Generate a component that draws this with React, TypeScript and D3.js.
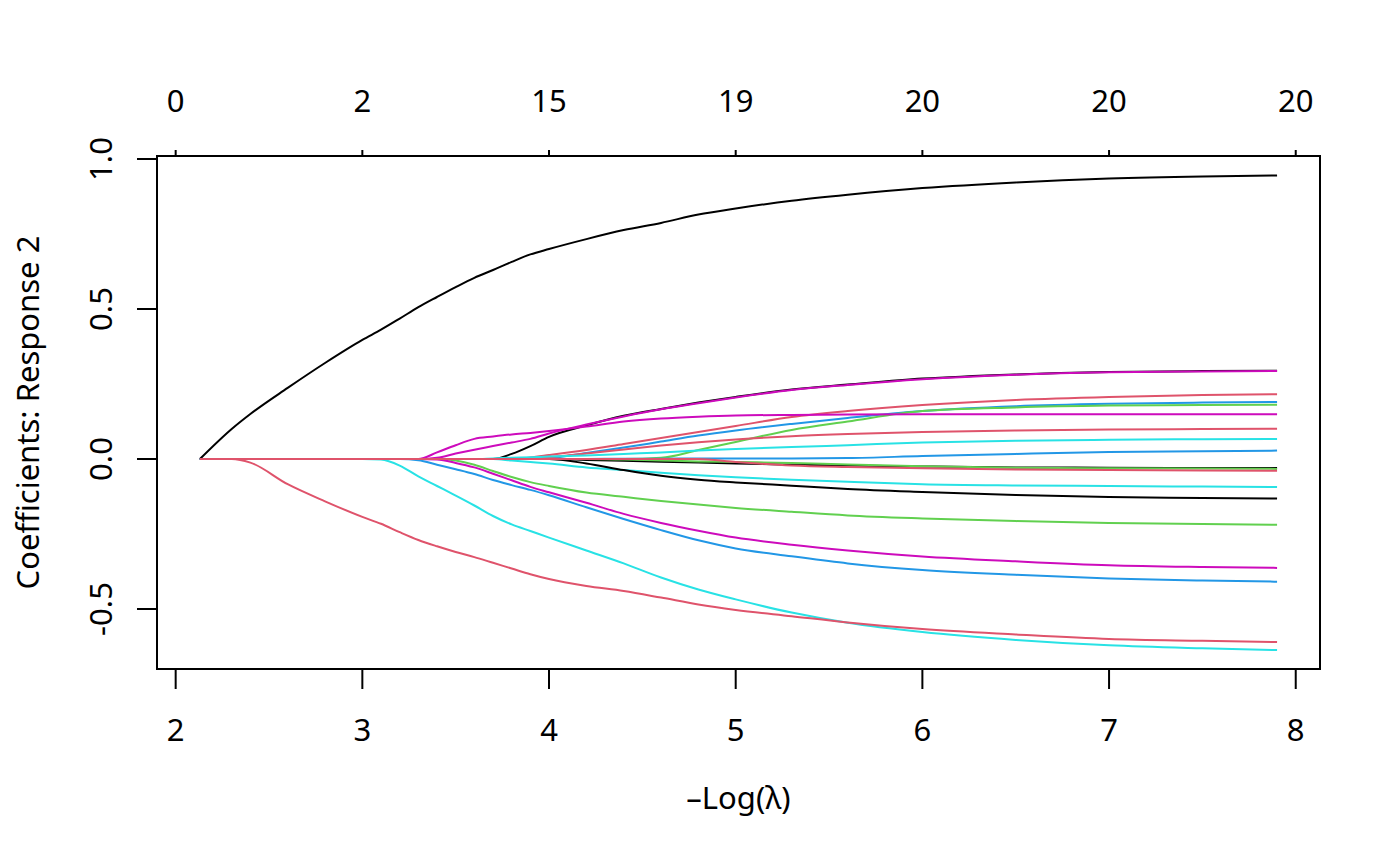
import React from "react";
import { scaleLinear, line, curveMonotoneX } from "d3";

// -log(lambda) grid the coefficients were read at
const negLogLambda = [
  2.13, 2.3, 2.4, 2.6, 2.8, 3.0, 3.1, 3.2, 3.3, 3.4, 3.5, 3.6, 3.7, 3.8, 3.9, 4.0,
  4.2, 4.4, 4.6, 4.8, 5.0, 5.3, 5.6, 6.0, 6.5, 7.0, 7.5, 7.9,
];

// coefficient paths, one array per variable
const v1 = [0, 0.1, 0.15, 0.237, 0.32, 0.397, 0.431, 0.468, 0.506, 0.54, 0.573, 0.604, 0.63, 0.657, 0.682, 0.7, 0.733, 0.763, 0.787, 0.815, 0.835, 0.861, 0.881, 0.903, 0.922, 0.935, 0.942, 0.945];
const v2 = [0, 0, 0, 0, 0, 0, 0, 0, 0, 0, 0, 0, 0, 0.017, 0.043, 0.074, 0.112, 0.144, 0.167, 0.188, 0.207, 0.232, 0.248, 0.268, 0.282, 0.29, 0.293, 0.294];
const v3 = [0, 0, 0, 0, 0, 0, 0, 0, 0, 0.004, 0.018, 0.031, 0.043, 0.055, 0.067, 0.085, 0.115, 0.142, 0.166, 0.186, 0.205, 0.23, 0.247, 0.266, 0.281, 0.289, 0.292, 0.293];
const v4 = [0, 0, 0, 0, 0, 0, 0, 0, 0, 0, 0, 0, 0, 0, 0.005, 0.013, 0.03, 0.05, 0.07, 0.09, 0.11, 0.14, 0.16, 0.18, 0.197, 0.207, 0.213, 0.216];
const v5 = [0, 0, 0, 0, 0, 0, 0, 0, 0, 0, 0, 0, 0, 0, 0, 0.003, 0.02, 0.038, 0.058, 0.078, 0.095, 0.117, 0.137, 0.16, 0.176, 0.184, 0.188, 0.19];
const v6 = [0, 0, 0, 0, 0, 0, 0, 0, 0, 0, 0, 0, 0, 0, 0, 0, 0, 0, 0.004, 0.03, 0.057, 0.097, 0.125, 0.16, 0.172, 0.178, 0.18, 0.181];
const v7 = [0, 0, 0, 0, 0, 0, 0, 0, 0, 0.022, 0.046, 0.067, 0.075, 0.082, 0.087, 0.093, 0.108, 0.125, 0.135, 0.141, 0.145, 0.147, 0.148, 0.149, 0.149, 0.149, 0.149, 0.149];
const v8 = [0, 0, 0, 0, 0, 0, 0, 0, 0, 0, 0, 0, 0, 0, 0, 0.006, 0.018, 0.032, 0.045, 0.056, 0.065, 0.076, 0.083, 0.09, 0.095, 0.098, 0.1, 0.101];
const v9 = [0, 0, 0, 0, 0, 0, 0, 0, 0, 0, 0, 0, 0.002, 0.004, 0.006, 0.008, 0.012, 0.017, 0.022, 0.028, 0.033, 0.04, 0.046, 0.055, 0.061, 0.064, 0.066, 0.067];
const v10 = [0, 0, 0, 0, 0, 0, 0, 0, 0, 0, 0, 0, 0, 0, 0, 0, 0, 0.001, 0.001, 0.002, 0.002, 0.002, 0.003, 0.01, 0.017, 0.023, 0.026, 0.028];
const v11 = [0, 0, 0, 0, 0, 0, 0, 0, 0, 0, 0, 0, 0, 0, 0, 0, -0.003, -0.006, -0.009, -0.012, -0.015, -0.019, -0.022, -0.025, -0.028, -0.029, -0.03, -0.03];
const v12 = [0, 0, 0, 0, 0, 0, 0, 0, 0, 0, 0, 0, 0, 0, 0, 0, 0, -0.002, -0.005, -0.008, -0.01, -0.013, -0.018, -0.024, -0.029, -0.031, -0.032, -0.033];
const v13 = [0, 0, 0, 0, 0, 0, 0, 0, 0, 0, 0, 0, 0, 0, 0, 0, 0, 0, 0, 0, -0.01, -0.022, -0.027, -0.031, -0.035, -0.037, -0.038, -0.039];
const v14 = [0, 0, 0, 0, 0, 0, 0, 0, 0, 0, 0, 0, 0, -0.005, -0.01, -0.015, -0.028, -0.037, -0.046, -0.054, -0.061, -0.069, -0.076, -0.084, -0.088, -0.09, -0.092, -0.093];
const v15 = [0, 0, 0, 0, 0, 0, 0, 0, 0, 0, 0, 0, 0, 0, 0, 0, -0.015, -0.037, -0.056, -0.069, -0.078, -0.089, -0.1, -0.11, -0.12, -0.127, -0.13, -0.132];
const v16 = [0, 0, 0, 0, 0, 0, 0, 0, 0, 0, -0.005, -0.019, -0.04, -0.06, -0.077, -0.09, -0.112, -0.126, -0.14, -0.152, -0.163, -0.176, -0.188, -0.198, -0.207, -0.213, -0.217, -0.219];
const v17 = [0, 0, 0, 0, 0, 0, 0, 0, 0, -0.002, -0.013, -0.028, -0.049, -0.071, -0.093, -0.111, -0.146, -0.183, -0.213, -0.239, -0.262, -0.286, -0.305, -0.325, -0.341, -0.354, -0.36, -0.363];
const v18 = [0, 0, 0, 0, 0, 0, 0, 0, -0.004, -0.019, -0.034, -0.05, -0.07, -0.087, -0.103, -0.121, -0.161, -0.2, -0.237, -0.271, -0.298, -0.324, -0.348, -0.37, -0.386, -0.398, -0.405, -0.409];
const v19 = [0, 0, -0.012, -0.084, -0.141, -0.193, -0.216, -0.244, -0.27, -0.291, -0.31, -0.327, -0.346, -0.365, -0.384, -0.4, -0.423, -0.44, -0.462, -0.485, -0.503, -0.524, -0.545, -0.567, -0.585, -0.6, -0.606, -0.61];
const v20 = [0, 0, 0, 0, 0, 0, -0.002, -0.022, -0.058, -0.09, -0.122, -0.155, -0.19, -0.218, -0.24, -0.262, -0.305, -0.348, -0.395, -0.435, -0.468, -0.512, -0.546, -0.577, -0.603, -0.621, -0.631, -0.637];

const paths = [v1, v2, v3, v4, v5, v6, v7, v8, v9, v10, v11, v12, v13, v14, v15, v16, v17, v18, v19, v20];
const pathColors = [
  "#000000", "#000000", "#CD0BBC", "#DF536B", "#2297E6", "#61D04F", "#CD0BBC", "#DF536B", "#28E2E5", "#2297E6",
  "#000000", "#61D04F", "#DF536B", "#28E2E5", "#000000", "#61D04F", "#CD0BBC", "#2297E6", "#DF536B", "#28E2E5",
];

const xTicks = [2, 3, 4, 5, 6, 7, 8];
const dfLabels = ["0", "2", "15", "19", "20", "20", "20"];
const yTicks = [-0.5, 0, 0.5, 1];

const W = 1400;
const H = 866;
const box = { left: 157, right: 1320, top: 156, bottom: 669 };
const font = "'Noto Sans', 'Open Sans', sans-serif";
const fs = 31;

export default function App() {
  const x = scaleLinear().domain([1.9, 8.13]).range([box.left, box.right]);
  const y = scaleLinear().domain([-0.7, 1.01]).range([box.bottom, box.top]);

  const gen = line<number>()
    .x((_, i) => x(negLogLambda[i]))
    .y((d) => y(d))
    .curve(curveMonotoneX);

  // a red path that stays on zero longest goes last, as in the original
  const order = [0, 1, 2, 3, 4, 5, 6, 7, 8, 9, 10, 11, 13, 14, 15, 16, 17, 19, 18, 12];

  return (
    <svg
      width={W}
      height={H}
      style={{ position: "absolute", left: 0, top: 0, background: "#fff" }}
      fontFamily={font}
    >
      <rect width={W} height={H} fill="#fff" />

      {order.map((k) => (
        <path key={k} d={gen(paths[k]) || ""} fill="none" stroke={pathColors[k]} strokeWidth={2} />
      ))}

      {/* box */}
      <rect
        x={box.left}
        y={box.top}
        width={box.right - box.left}
        height={box.bottom - box.top}
        fill="none"
        stroke="#000"
        strokeWidth={2}
      />

      {/* bottom axis */}
      <line x1={x(2)} x2={x(8)} y1={box.bottom} y2={box.bottom} stroke="#000" strokeWidth={2} />
      {xTicks.map((t) => (
        <g key={"b" + t}>
          <line x1={x(t)} x2={x(t)} y1={box.bottom} y2={box.bottom + 20} stroke="#000" strokeWidth={2} />
          <text x={x(t)} y={729} textAnchor="middle" dominantBaseline="central" fontSize={fs}>
            {t}
          </text>
        </g>
      ))}

      {/* top axis: degrees of freedom */}
      <line x1={x(2)} x2={x(8)} y1={box.top} y2={box.top} stroke="#000" strokeWidth={2} />
      {xTicks.map((t, i) => (
        <g key={"t" + t}>
          <line x1={x(t)} x2={x(t)} y1={box.top} y2={box.top - 6} stroke="#000" strokeWidth={2} />
          <text x={x(t)} y={100} textAnchor="middle" dominantBaseline="central" fontSize={fs}>
            {dfLabels[i]}
          </text>
        </g>
      ))}

      {/* left axis */}
      <line x1={box.left} x2={box.left} y1={y(1)} y2={y(-0.5)} stroke="#000" strokeWidth={2} />
      {yTicks.map((t) => (
        <g key={"l" + t}>
          <line x1={box.left} x2={box.left - 20} y1={y(t)} y2={y(t)} stroke="#000" strokeWidth={2} />
          <text
            transform={`translate(100,${y(t)}) rotate(-90)`}
            textAnchor="middle"
            dominantBaseline="central"
            fontSize={fs}
          >
            {t.toFixed(1)}
          </text>
        </g>
      ))}

      {/* axis titles */}
      <text x={(box.left + box.right) / 2} y={797} textAnchor="middle" dominantBaseline="central" fontSize={fs}>
        –Log(λ)
      </text>
      <text
        transform={`translate(27,${(box.top + box.bottom) / 2}) rotate(-90)`}
        textAnchor="middle"
        dominantBaseline="central"
        fontSize={fs}
      >
        Coefficients: Response 2
      </text>
    </svg>
  );
}
